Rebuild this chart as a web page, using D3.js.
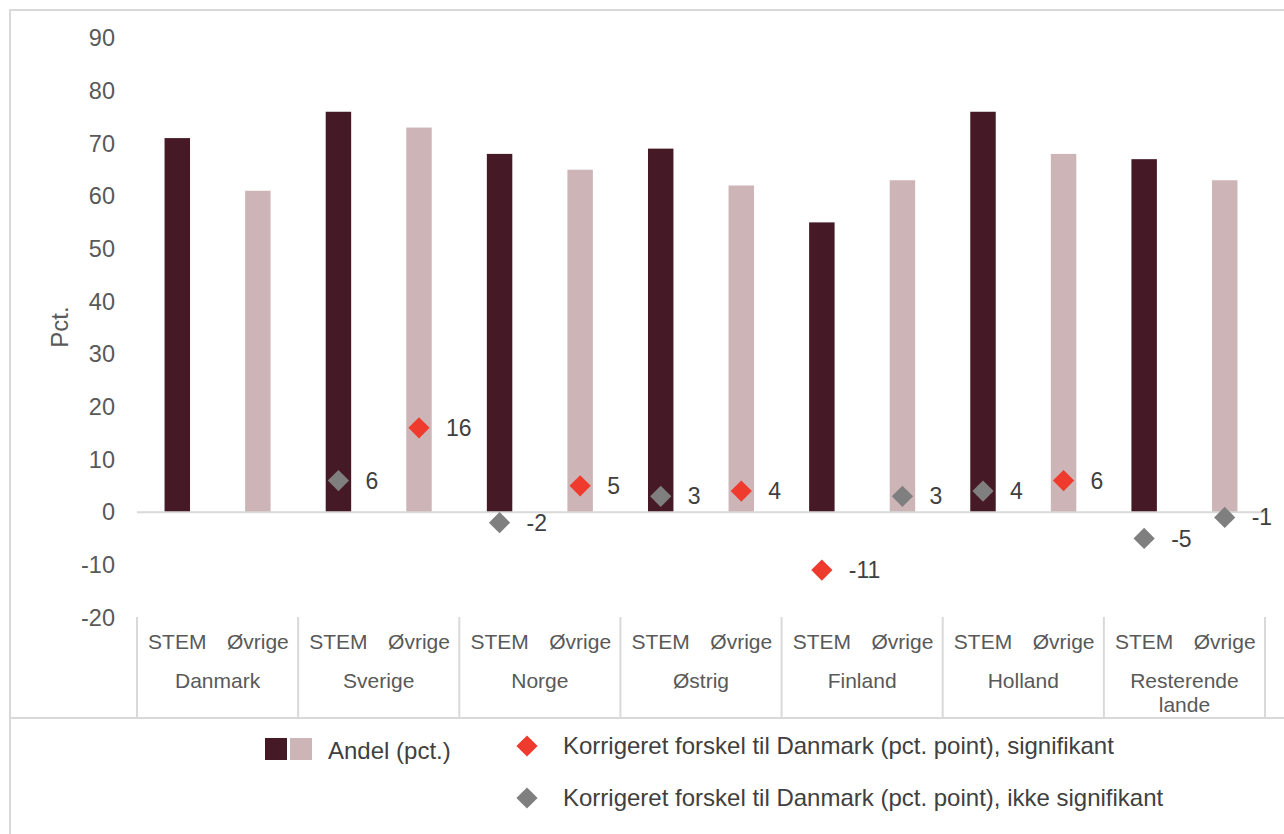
<!DOCTYPE html>
<html>
<head>
<meta charset="utf-8">
<script src="https://cdn.jsdelivr.net/npm/d3@7"></script>
<style>
  html, body { margin: 0; padding: 0; background: #fff; }
  svg { display: block; font-family: "Liberation Sans", Arial, sans-serif; }
</style>
</head>
<body>
<svg id="chart" width="1284" height="834"></svg>
<script>
// ---- data ----
const countries = ["Danmark", "Sverige", "Norge", "Østrig", "Finland", "Holland", "Resterende lande"];
const subGroups = ["STEM", "Øvrige"];
const stemShare = [71, 76, 68, 69, 55, 76, 67];
const otherShare = [61, 73, 65, 62, 63, 68, 63];
// corrected difference to Denmark (null = no marker)
const stemDiff = [null, 6, -2, 3, -11, 4, -5];
const otherDiff = [null, 16, 5, 4, 3, 6, -1];
const stemSignificant = [false, false, false, false, true, false, false];
const otherSignificant = [false, true, true, true, false, true, false];
const yTicks = [-20, -10, 0, 10, 20, 30, 40, 50, 60, 70, 80, 90];
const legendBar = "Andel (pct.)";
const legendSig = "Korrigeret forskel til Danmark (pct. point), signifikant";
const legendNotSig = "Korrigeret forskel til Danmark (pct. point), ikke signifikant";
const yLabel = "Pct.";

// ---- styles ----
const cDark = "#461926", cLight = "#CDB5B7", cRed = "#EE3B2D", cGray = "#7F7F7F";
const cAxisText = "#595959", cLine = "#D9D9D9", cDarkText = "#404040";
const fsTick = 23.5, fsCat = 21, fsLeg = 24, fsVal = 23;

const svg = d3.select("#chart");

// outer border
svg.append("path")
  .attr("d", "M10,834 L10,10 L1284,10")
  .attr("fill", "none").attr("stroke", cLine).attr("stroke-width", 2);

const x0 = d3.scaleBand().domain(countries).range([137, 1265]).padding(0);
const x1 = d3.scaleBand().domain(subGroups).range([0, x0.bandwidth()]).padding(0);
const y = d3.scaleLinear().domain([-20, 90]).range([617.5, 38]);
const barW = x1.bandwidth() * 0.316;

// y tick labels
svg.append("g").selectAll("text").data(yTicks).join("text")
  .attr("x", 115).attr("y", d => y(d))
  .attr("dy", "0.35em").attr("text-anchor", "end")
  .attr("font-size", fsTick).attr("fill", cAxisText)
  .text(d => d);

// y label
svg.append("text")
  .attr("transform", `translate(${68},${327}) rotate(-90)`)
  .attr("text-anchor", "middle")
  .attr("font-size", fsLeg).attr("fill", cAxisText)
  .text(yLabel);

// build flat data
const rows = [];
countries.forEach((c, i) => {
  rows.push({ c, s: "STEM", v: stemShare[i], d: stemDiff[i], sig: stemSignificant[i] });
  rows.push({ c, s: "Øvrige", v: otherShare[i], d: otherDiff[i], sig: otherSignificant[i] });
});
const cx = r => x0(r.c) + x1(r.s) + x1.bandwidth() / 2;

// bars
svg.append("g").selectAll("rect").data(rows).join("rect")
  .attr("x", r => cx(r) - barW / 2)
  .attr("width", barW)
  .attr("y", r => y(r.v))
  .attr("height", r => y(0) - y(r.v))
  .attr("fill", r => r.s === "STEM" ? cDark : cLight);

// zero line
svg.append("line")
  .attr("x1", 137).attr("x2", 1265)
  .attr("y1", y(0)).attr("y2", y(0))
  .attr("stroke", cLine).attr("stroke-width", 2);

// markers
const diamond = d3.symbol().type(d3.symbolSquare).size(15 * 15);
const mk = rows.filter(r => r.d !== null);
svg.append("g").selectAll("path").data(mk).join("path")
  .attr("d", diamond)
  .attr("transform", r => `translate(${cx(r)},${y(r.d)}) rotate(45)`)
  .attr("fill", r => r.sig ? cRed : cGray);
svg.append("g").selectAll("text").data(mk).join("text")
  .attr("x", r => cx(r) + 27).attr("y", r => y(r.d))
  .attr("dy", "0.35em")
  .attr("font-size", fsVal).attr("fill", cDarkText)
  .text(r => r.d);

// category axis: separators
const seps = countries.map(c => x0(c)).concat([x0.range()[1]]);
svg.append("g").selectAll("line").data(seps).join("line")
  .attr("x1", d => d).attr("x2", d => d)
  .attr("y1", 617).attr("y2", 718)
  .attr("stroke", cLine).attr("stroke-width", 2);

// sub labels
svg.append("g").selectAll("text").data(rows).join("text")
  .attr("x", r => cx(r)).attr("y", 642)
  .attr("dy", "0.35em").attr("text-anchor", "middle")
  .attr("font-size", fsCat).attr("fill", cAxisText)
  .text(r => r.s);

// country labels (wrap "Resterende lande")
const cg = svg.append("g").selectAll("text").data(countries).join("text")
  .attr("x", c => x0(c) + x0.bandwidth() / 2).attr("y", 681)
  .attr("text-anchor", "middle")
  .attr("font-size", fsCat).attr("fill", cAxisText);
cg.each(function(c) {
  const words = c === "Resterende lande" ? ["Resterende", "lande"] : [c];
  const t = d3.select(this);
  words.forEach((w, k) => {
    t.append("tspan").attr("x", x0(c) + x0.bandwidth() / 2)
      .attr("y", 681 + k * 24).attr("dy", "0.35em").text(w);
  });
});

// bottom separator line
svg.append("line")
  .attr("x1", 10).attr("x2", 1284)
  .attr("y1", 718).attr("y2", 718)
  .attr("stroke", cLine).attr("stroke-width", 2);

// legend
svg.append("rect").attr("x", 265).attr("y", 738).attr("width", 22).attr("height", 22).attr("fill", cDark);
svg.append("rect").attr("x", 290).attr("y", 738).attr("width", 22).attr("height", 22).attr("fill", cLight);
svg.append("text").attr("x", 328).attr("y", 751).attr("dy", "0.35em")
  .attr("font-size", fsLeg).attr("fill", cDarkText).text(legendBar);

const legItems = [
  { label: legendSig, color: cRed, yy: 746 },
  { label: legendNotSig, color: cGray, yy: 798 }
];
legItems.forEach(it => {
  svg.append("path").attr("d", diamond)
    .attr("transform", `translate(527,${it.yy}) rotate(45)`)
    .attr("fill", it.color);
  svg.append("text").attr("x", 563).attr("y", it.yy).attr("dy", "0.35em")
    .attr("font-size", fsLeg).attr("fill", cDarkText).text(it.label);
});
</script>
</body>
</html>
